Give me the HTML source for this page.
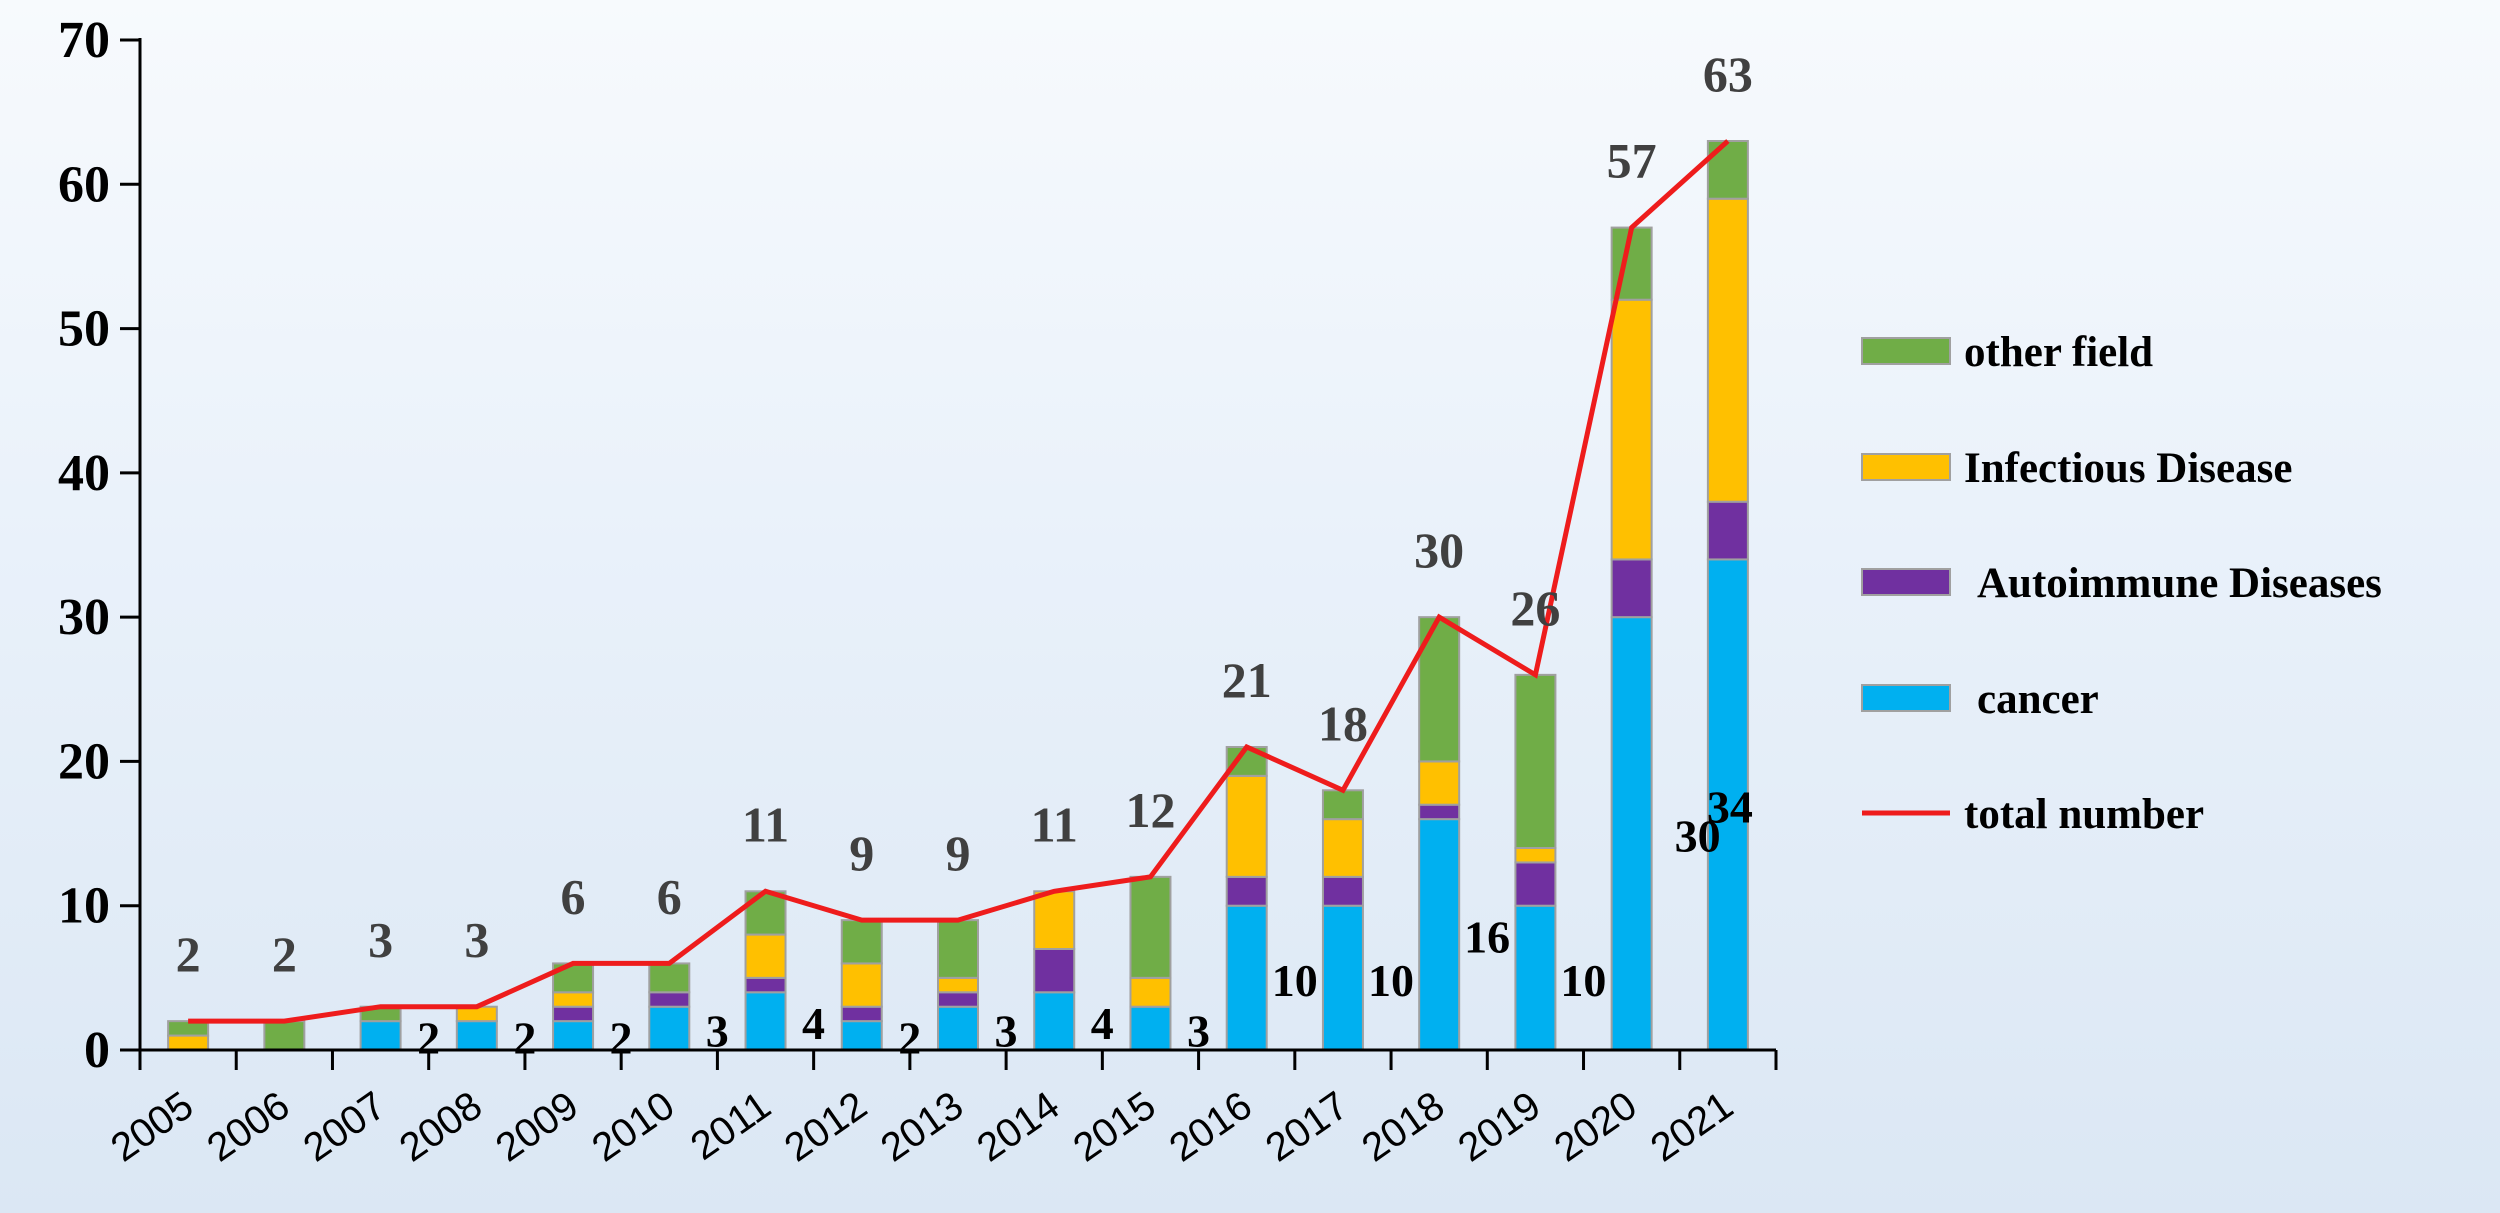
<!DOCTYPE html>
<html><head><meta charset="utf-8">
<style>
html,body{margin:0;padding:0;}
body{width:2500px;height:1213px;overflow:hidden;background:linear-gradient(180deg,#f7fafd 0%,#e9f1fa 45%,#dbe7f4 100%);}
svg{display:block;}
.ser{font-family:"Liberation Serif",serif;font-weight:bold;}
.san{font-family:"Liberation Sans",sans-serif;}
</style></head>
<body>
<svg id="chart" width="2500" height="1213" viewBox="0 0 2500 1213" xmlns="http://www.w3.org/2000/svg"></svg>
<script>
const years = ["2005","2006","2007","2008","2009","2010","2011","2012","2013","2014","2015","2016","2017","2018","2019","2020","2021"];
const cancer = [0,0,2,2,2,3,4,2,3,4,3,10,10,16,10,30,34];
const autoimmune = [0,0,0,0,1,1,1,1,1,3,0,2,2,1,3,4,4];
const infectious = [1,0,0,1,1,0,3,3,1,4,2,7,4,3,1,18,21];
const other = [1,2,1,0,2,2,3,3,4,0,7,2,2,10,12,5,4];
const totals = [2,2,3,3,6,6,11,9,9,11,12,21,18,30,26,57,63];
const yTicks = [0,10,20,30,40,50,60,70];

const NS = "http://www.w3.org/2000/svg";
const svg = document.getElementById('chart');
const X0 = 140, X1 = 1776, Y0 = 1050, Y70 = 40;
const step = (X1 - X0) / years.length;
const barW = 40;
function xC(i){ return X0 + step * (i + 0.5); }
function yS(v){ return Y0 - (Y0 - Y70) * v / 70; }
function mk(tag, attrs, parent){
  const e = document.createElementNS(NS, tag);
  for (const k in attrs) e.setAttribute(k, attrs[k]);
  (parent || svg).appendChild(e);
  return e;
}

const series = [
  {vals: cancer, color: "#00b0f0", name: "cancer"},
  {vals: autoimmune, color: "#7030a0", name: "autoimmune"},
  {vals: infectious, color: "#ffc000", name: "infectious"},
  {vals: other, color: "#70ad47", name: "other"}
];
years.forEach((yr, i) => {
  let base = 0;
  series.forEach(s => {
    const v = s.vals[i];
    if (v > 0) {
      const r = mk('rect', {x: xC(i) - barW/2, y: yS(base + v), width: barW, height: yS(base) - yS(base + v), fill: s.color, stroke: "#a0a0a0", "stroke-width": 2});
      
      
    }
    base += v;
  });
});

const ax = mk('g', {});


mk('line', {x1: X0, y1: Y70 - 2, x2: X0, y2: Y0 + 2, stroke: "#000", "stroke-width": 3}, ax);
mk('line', {x1: X0, y1: Y0, x2: X1, y2: Y0, stroke: "#000", "stroke-width": 3}, ax);
yTicks.forEach(t => {
  mk('line', {x1: X0 - 20, y1: yS(t), x2: X0, y2: yS(t), stroke: "#000", "stroke-width": 3}, ax);
  const tx = mk('text', {x: 110, y: yS(t) + 17, "text-anchor": "end", "font-size": 52, class: "ser", fill: "#000"}, ax);
  tx.textContent = t;
  
  
});
for (let i = 0; i <= years.length; i++) {
  mk('line', {x1: X0 + step * i, y1: Y0, x2: X0 + step * i, y2: Y0 + 20, stroke: "#000", "stroke-width": 3}, ax);
}
years.forEach((yr, i) => {
  const x = xC(i) + 8, y = 1112;
  const tx = mk('text', {x: x, y: y, "text-anchor": "end", "font-size": 40, class: "san", fill: "#000", transform: `rotate(-35 ${x} ${y})`}, ax);
  tx.textContent = yr;
  
  
});

const pts = totals.map((v, i) => xC(i) + ',' + yS(v)).join(' ');
const pl = mk('polyline', {points: pts, fill: "none", stroke: "#ee1c1c", "stroke-width": 5, "stroke-linejoin": "miter"});



totals.forEach((v, i) => {
  const tx = mk('text', {x: xC(i), y: yS(v) - 50, "text-anchor": "middle", "font-size": 50, class: "ser", fill: "#404040"});
  tx.textContent = v;
  
  
});

const labelShift = {15: 66, 16: 2};
cancer.forEach((v, i) => {
  if (v <= 0) return;
  const dx = (i in labelShift) ? labelShift[i] : 48;
  const tx = mk('text', {x: xC(i) + dx, y: yS(v / 2) + 18, "text-anchor": "middle", "font-size": 46, class: "ser", fill: "#000"});
  tx.textContent = v;
  
  
});

const leg = mk('g', {});


const legItems = [
  {label: "other field", color: "#70ad47", y: 351, tx: 1964, line: false},
  {label: "Infectious Disease", color: "#ffc000", y: 467, tx: 1964, line: false},
  {label: "Autoimmune Diseases", color: "#7030a0", y: 582, tx: 1977, line: false},
  {label: "cancer", color: "#00b0f0", y: 698, tx: 1977, line: false},
  {label: "total number", color: "#ee1c1c", y: 813, tx: 1964, line: true}
];
legItems.forEach(it => {
  const g = mk('g', {}, leg);
  
  
  if (it.line) {
    mk('line', {x1: 1862, y1: it.y, x2: 1950, y2: it.y, stroke: it.color, "stroke-width": 5}, g);
  } else {
    mk('rect', {x: 1862, y: it.y - 13, width: 88, height: 26, fill: it.color, stroke: "#a0a0a0", "stroke-width": 2}, g);
  }
  const t = mk('text', {x: it.tx, y: it.y + 15, "font-size": 43, class: "ser", fill: "#000"}, g);
  t.textContent = it.label;
});
</script>
</body></html>
